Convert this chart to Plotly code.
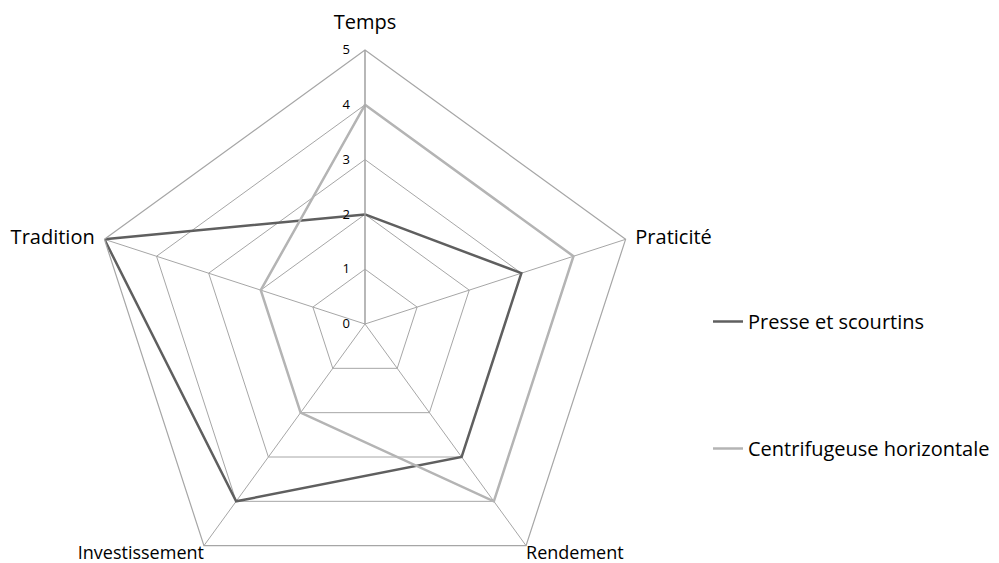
import plotly.graph_objects as go

categories = ["Temps", "Praticité", "Rendement", "Investissement", "Tradition"]
presse = [2, 3, 3, 4, 5]
centrifugeuse = [4, 4, 4, 2, 2]
series_names = ["Presse et scourtins", "Centrifugeuse horizontale"]
radial_ticks = [0, 1, 2, 3, 4, 5]

# label placement styles (not data)
label_positions = ["top center", "middle right", "bottom right", "bottom left", "middle left"]
label_offsets = [24, 14, 0, 0, 14]
label_sizes = [20, 20, 18, 18, 20]

W, H = 999, 620
cx, cy = 365, 324       # pixel centre (from top)
PX_PER_UNIT = 54.8
RMAX = 5
RMIN = 0
R = (RMAX - RMIN) * PX_PER_UNIT

FONT = "Open Sans, Noto Sans, sans-serif"
GRID = "#a6a6a6"
LABEL_SIZE = 20

fig = go.Figure()
fig.add_trace(go.Scatterpolar(
    r=presse + presse[:1], theta=categories + categories[:1],
    mode="lines", name=series_names[0], legendgroup="a",
    line=dict(color="#5f5f5f", width=2.5), hoverinfo="skip",
))
fig.add_trace(go.Scatterpolar(
    r=centrifugeuse + centrifugeuse[:1], theta=categories + categories[:1],
    mode="lines", name=series_names[1], legendgroup="b",
    line=dict(color="#b4b4b4", width=2.5), hoverinfo="skip",
))
# category labels at the outer vertices
fig.add_trace(go.Scatterpolar(
    r=[RMAX] * len(categories), theta=categories, text=categories,
    mode="markers+text", textposition=label_positions,
    marker=dict(size=label_offsets, opacity=0, color="white"),
    textfont=dict(family=FONT, size=label_sizes, color="#000"),
    cliponaxis=False, showlegend=False, hoverinfo="skip",
))

fig.update_layout(
    width=W, height=H, autosize=False,
    margin=dict(l=0, r=0, t=0, b=0),
    paper_bgcolor="white", plot_bgcolor="white",
    font=dict(family=FONT, size=LABEL_SIZE, color="#000000"),
    polar=dict(
        domain=dict(x=[(cx - R) / W, (cx + R) / W],
                    y=[(H - cy - R) / H, (H - cy + R) / H]),
        bgcolor="rgba(0,0,0,0)",
        gridshape="linear",
        angularaxis=dict(
            direction="clockwise", rotation=90,
            categoryorder="array", categoryarray=categories,
            showline=True, linecolor=GRID, linewidth=1.2,
            gridcolor=GRID, gridwidth=1.2,
            ticks="", showticklabels=False,
        ),
        radialaxis=dict(
            range=[RMIN, RMAX], tickvals=radial_ticks,
            ticktext=[str(v) for v in radial_ticks],
            angle=90, tickangle=90, side="counterclockwise",
            showticklabels=True,
            ticks="outside", ticklen=10, tickcolor="rgba(0,0,0,0)",
            tickfont=dict(family=FONT, size=13, color="#000"),
            showline=True, linecolor=GRID, linewidth=1.2,
            gridcolor=GRID, gridwidth=1.2,
        ),
    ),
    showlegend=True,
    legend=dict(
        x=708 / W, xanchor="left", y=(H - 302) / H, yanchor="top",
        tracegroupgap=98, itemwidth=30,
        font=dict(family=FONT, size=LABEL_SIZE, color="#000"),
        bgcolor="rgba(0,0,0,0)",
    ),
)

fig.write_html(
    "out.html",
    config={"displayModeBar": False},
    post_script=(
        "document.documentElement.style.overflow='hidden';"
        "document.body.style.overflow='hidden';"
        "document.body.style.margin='0';"
    ),
)
